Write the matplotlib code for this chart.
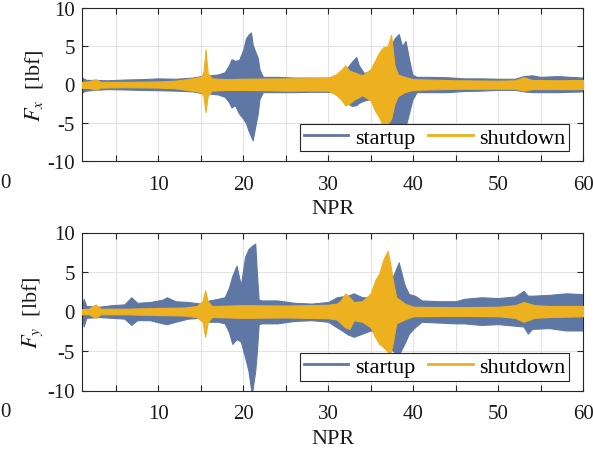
import matplotlib
matplotlib.use("Agg")
import matplotlib.pyplot as plt
import numpy as np

plt.rcParams['font.family'] = ['Liberation Serif', 'DejaVu Serif']
plt.rcParams['mathtext.fontset'] = 'stix'
plt.rcParams['axes.unicode_minus'] = False

# ---------------- data (envelopes) ----------------
# Fx, startup
fx_su_npr = [1, 1.5, 2.5, 4, 6, 8, 10, 12, 14, 15, 16, 17, 17.8, 18.3, 18.6, 19.0, 19.5, 20.0,
             20.3, 20.6, 20.9, 21.1, 21.4, 21.7, 21.9, 22.3, 24, 26, 28, 30, 31, 31.7, 32.3,
             32.8, 33.3, 33.6, 34.2, 35, 35.6, 36.2, 36.8, 37.3, 37.8, 38.3, 38.7, 39.1, 39.5,
             39.9, 40.4, 42, 44, 46, 48, 50, 52, 53, 54, 55, 57, 60]
fx_su_hi = [0.9, 0.6, 0.6, 0.55, 0.65, 0.7, 0.8, 0.75, 0.9, 1.1, 1.2, 1.3, 1.6, 2.5, 3.3, 3.1, 3.2, 4.6,
            6.0, 6.5, 6.8, 5.2, 4.3, 3.5, 2.0, 1.0, 1.0, 0.9, 0.9, 0.9, 1.0, 1.6, 2.3,
            3.0, 3.6, 2.5, 1.5, 1.8, 2.2, 2.7, 4.0, 4.9, 6.0, 6.6, 5.0, 5.7, 3.4,
            1.3, 1.0, 1.0, 0.95, 0.8, 0.8, 0.75, 0.75, 1.1, 1.2, 1.0, 1.1, 0.9]
fx_su_lo = [-1.0, -0.8, -0.7, -0.6, -0.65, -0.7, -0.75, -0.8, -0.9, -1.1, -1.2, -1.3, -1.6, -2.3, -3.0, -2.7, -3.8, -4.5,
            -5.0, -6.0, -6.8, -7.3, -5.5, -3.8, -1.9, -1.0, -1.0, -1.0, -0.95, -0.95, -1.1, -1.8, -2.5,
            -2.8, -2.7, -2.4, -2.1, -1.9, -2.8, -3.8, -4.8, -5.1, -5.5, -6.5, -6.8, -5.5, -3.8,
            -2.0, -1.0, -1.0, -1.0, -0.85, -0.8, -0.7, -0.7, -0.9, -1.0, -1.0, -1.0, -0.9]

# Fx, shutdown
fx_sd_npr = [1, 1.8, 2.6, 3.2, 6, 10, 12, 14, 15.0, 15.3, 15.55, 15.8, 16.3, 18, 20, 25, 30, 31,
             31.6, 32.0, 32.5, 33, 34, 35, 35.5, 36, 36.5, 37.0, 37.4, 37.8, 38.2, 39, 40, 45,
             50, 52, 53, 54, 57, 60]
fx_sd_hi = [0.35, 0.4, 0.7, 0.35, 0.35, 0.4, 0.5, 0.8, 1.0, 1.6, 4.6, 1.5, 0.8, 0.7, 0.75, 0.8, 0.85, 1.4,
            2.0, 2.5, 1.8, 1.6, 1.2, 2.0, 3.1, 4.2, 4.9, 5.0, 6.5, 2.5, 1.3, 1.0, 0.7, 0.55,
            0.5, 0.55, 0.95, 0.6, 0.55, 0.6]
fx_sd_lo = [-0.45, -0.45, -0.7, -0.4, -0.35, -0.4, -0.5, -0.8, -1.0, -1.5, -3.6, -1.5, -0.8, -0.7, -0.7, -0.8, -0.8, -1.4,
            -2.1, -2.7, -2.5, -2.0, -1.4, -2.1, -3.4, -4.3, -5.6, -5.1, -4.5, -2.5, -1.5, -1.0, -0.7, -0.55,
            -0.55, -0.55, -0.8, -0.6, -0.6, -0.6]

# Fy, startup
fy_su_npr = [1, 1.2, 1.5, 3, 4.5, 6.0, 6.8, 7.5, 9, 10.5, 11, 12, 13.5, 15, 16, 17, 17.8, 18.3,
             18.7, 19.2, 19.7, 20.2, 20.6, 21.0, 21.4, 21.6, 21.8, 22.2, 24, 26, 28, 30, 31,
             31.6, 32.3, 33, 34, 35, 36, 37, 37.6, 38.3, 39.0, 39.5, 40.2, 41, 43, 45, 46, 48,
             50, 52, 53, 53.5, 54, 56, 58, 60]
fy_su_hi = [0.5, 1.6, 0.7, 0.6, 0.8, 0.9, 1.8, 1.1, 1.2, 1.5, 1.8, 1.3, 1.2, 1.0, 1.4, 1.6, 1.8, 3.0,
            4.5, 5.8, 3.3, 6.9, 7.9, 8.3, 8.6, 4.8, 1.5, 1.4, 1.4, 1.1, 1.0, 1.2, 1.8,
            1.9, 2.0, 2.3, 1.8, 1.8, 2.0, 3.0, 4.4, 6.2, 3.3, 2.2, 2.0, 1.4, 1.3, 1.3, 1.6, 1.8,
            1.7, 1.9, 2.6, 2.0, 2.0, 2.1, 2.3, 2.2]
fy_su_lo = [-0.6, -1.9, -0.8, -0.7, -0.8, -0.9, -1.7, -1.1, -1.1, -1.5, -1.6, -1.3, -0.9, -0.8, -1.3, -1.3, -1.5, -2.6,
            -4.1, -3.5, -3.8, -5.8, -7.5, -10.5, -7.5, -5.0, -1.6, -1.5, -1.5, -1.2, -1.1, -1.3, -2.0,
            -2.4, -2.9, -3.2, -2.8, -2.4, -2.8, -4.0, -5.0, -5.5, -4.0, -2.8, -2.0, -1.3, -1.4, -1.5, -1.5, -1.7,
            -1.6, -1.8, -1.9, -2.8, -2.2, -2.1, -2.4, -2.4]

# Fy, shutdown
fy_sd_npr = [1, 1.8, 2.6, 3.2, 6, 10, 13, 14.5, 15.2, 15.5, 15.8, 16.3, 20, 25, 30, 31, 31.5,
             32, 32.5, 33, 34, 35, 35.5, 36, 36.5, 37.0, 37.3, 37.6, 38.0, 39, 40, 45, 50, 52,
             53, 54.3, 56, 60]
fy_sd_hi = [0.3, 0.35, 0.9, 0.35, 0.35, 0.45, 0.5, 0.7, 1.3, 2.7, 1.3, 0.7, 0.8, 0.75, 0.85, 1.0, 1.4,
            2.3, 1.8, 1.2, 1.3, 2.3, 3.9, 4.8, 6.6, 7.7, 6.0, 4.0, 1.8, 1.0, 0.6, 0.55, 0.6, 0.8,
            1.2, 0.8, 0.7, 0.7]
fy_sd_lo = [-0.35, -0.35, -0.8, -0.35, -0.35, -0.45, -0.5, -0.7, -1.3, -3.2, -1.4, -0.7, -0.8, -0.75, -0.85, -1.0, -1.5,
            -2.0, -2.2, -1.1, -1.3, -2.0, -3.2, -4.1, -4.5, -5.1, -5.5, -4.0, -1.5, -1.0, -0.6, -0.55, -0.6, -0.8,
            -1.3, -0.8, -0.7, -0.6]

series_labels = ['startup', 'shutdown']
ylabels = [r'$F_x$  [lbf]', r'$F_y$  [lbf]']
xticks = [5, 10, 15, 20, 25, 30, 35, 40, 45, 50, 55, 60]
xticklabels = ['', '10', '', '20', '', '30', '', '40', '', '50', '', '60']
yticks = [-10, -5, 0, 5, 10]
yticklabels = ['-10', '-5', '0', '5', '10']

BLUE = '#5f77a5'
ORANGE = '#edb120'
SPINE = '#262626'

fig = plt.figure(figsize=(5.93, 4.52), dpi=100)
W, H = 593, 452
ax1 = fig.add_axes([82 / W, 1 - 162 / H, 501 / W, 153 / H])
ax2 = fig.add_axes([82 / W, 1 - 391.5 / H, 501 / W, 158 / H])

panels = [
    (ax1, (fx_su_npr, fx_su_hi, fx_su_lo), (fx_sd_npr, fx_sd_hi, fx_sd_lo), ylabels[0]),
    (ax2, (fy_su_npr, fy_su_hi, fy_su_lo), (fy_sd_npr, fy_sd_hi, fy_sd_lo), ylabels[1]),
]

for ax, su, sd, yl in panels:
    ax.fill_between(su[0], su[1], su[2], color=BLUE, linewidth=0.8, edgecolor=BLUE, zorder=2)
    ax.fill_between(sd[0], sd[1], sd[2], color=ORANGE, linewidth=0.8, edgecolor=ORANGE, zorder=3)
    h1, = ax.plot([], [], color=BLUE, lw=2, label=series_labels[0])
    h2, = ax.plot([], [], color=ORANGE, lw=2, label=series_labels[1])
    ax.set_xlim(1, 60)
    ax.set_ylim(-10, 10)
    ax.set_xticks(xticks)
    ax.set_xticklabels(xticklabels)
    ax.set_yticks(yticks)
    ax.set_yticklabels(yticklabels)
    ax.grid(True, color='#e3e3e3', linewidth=0.8, zorder=0)
    ax.set_axisbelow(True)
    ax.tick_params(direction='in', top=True, right=True, length=4, width=0.8,
                   colors=SPINE, labelsize=15, labelcolor='#1a1a1a')
    ax.tick_params(axis='x', pad=10)
    ax.tick_params(axis='y', pad=5)
    for s in ax.spines.values():
        s.set_color(SPINE)
        s.set_linewidth(0.8)
    ax.set_xlabel('NPR', fontsize=16, labelpad=4, color='#1a1a1a')
    ax.set_ylabel(yl, fontsize=16, labelpad=2, color='#1a1a1a')
    leg = ax.legend(handles=[h1, h2], ncol=2, loc='lower right',
                    bbox_to_anchor=(0.972, 0.063), borderaxespad=0, fontsize=16,
                    handlelength=2.0, handletextpad=0.3, columnspacing=0.6,
                    borderpad=0.15, fancybox=False, framealpha=1, edgecolor=SPINE)
    leg.get_frame().set_linewidth(0.8)
    leg.set_zorder(5)

# stray "0" tick labels at the left edge
fig.text(0.5 / W, 1 - 183 / H, '0', fontsize=15, ha='left', va='center', color='#1a1a1a')
fig.text(0.5 / W, 1 - 413 / H, '0', fontsize=15, ha='left', va='center', color='#1a1a1a')

fig.savefig('out.png', dpi=100)
